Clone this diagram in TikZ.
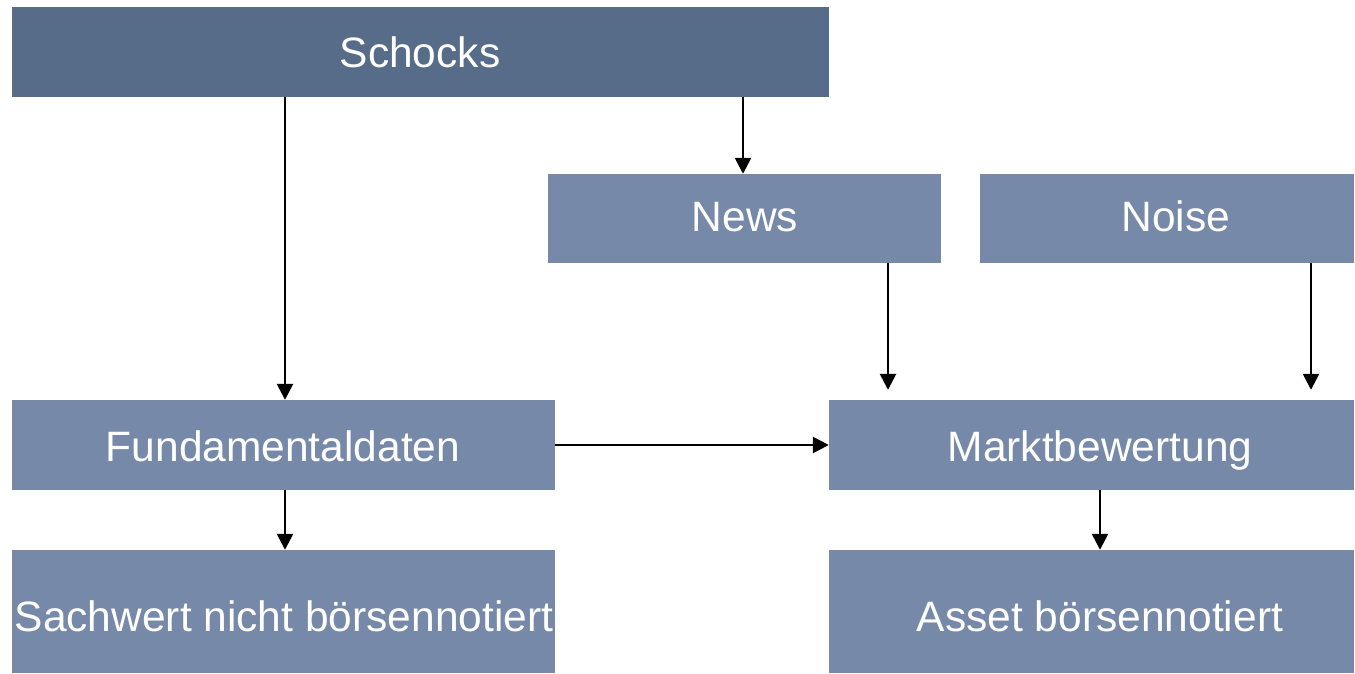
\documentclass[tikz,border=0pt]{standalone}
\usepackage{fontspec}
\setmainfont{Liberation Sans}
\usetikzlibrary{arrows.meta}
\definecolor{darkbox}{HTML}{576C88}
\definecolor{lightbox}{HTML}{7689A8}
\tikzset{
  boxd/.style={fill=darkbox, inner sep=0pt},
  boxl/.style={fill=lightbox, inner sep=0pt},
  lbl/.style={text=white, anchor=base, inner sep=0pt, font=\fontsize{42.5}{45}\selectfont},
  arr/.style={draw=black, line width=2.6pt, -{Triangle[length=16pt,width=16pt]}}
}
\begin{document}
\begin{tikzpicture}[x=1pt,y=-1pt]
\useasboundingbox (0,0) rectangle (1355,674);
\node[boxd, minimum width=817pt, minimum height=90pt] (schocks) at (420.5,52) {};
\node[boxl, minimum width=393pt, minimum height=89pt] (news) at (744.5,218.5) {};
\node[boxl, minimum width=374pt, minimum height=89pt] (noise) at (1167,218.5) {};
\node[boxl, minimum width=543pt, minimum height=90pt] (fund) at (283.5,445) {};
\node[boxl, minimum width=525pt, minimum height=90pt] (markt) at (1091.5,445) {};
\node[boxl, minimum width=543pt, minimum height=123pt] (sach) at (283.5,611.5) {};
\node[boxl, minimum width=525pt, minimum height=123pt] (asset) at (1091.5,611.5) {};
\node[lbl] (tschocks) at (420,67.5) {Schocks};
\node[lbl] (tnews) at (745,231.5) {News};
\node[lbl] (tnoise) at (1176,231.5) {Noise};
\node[lbl] (tfund) at (283,461.5) {Fundamentaldaten};
\node[lbl] (tmarkt) at (1100,461.5) {Marktbewertung};
\node[lbl] (tsach) at (284,631.5) {Sachwert nicht börsennotiert};
\node[lbl] (tasset) at (1100,631.5) {Asset börsennotiert};
\draw[arr] (schocks.south -| 285,0) -- (fund.north -| 285,0);
\draw[arr] (schocks.south -| 743,0) -- (news.north -| 743,0);
\draw[arr, shorten >=10pt] (news.south -| 888,0) -- (markt.north -| 888,0);
\draw[arr, shorten >=10pt] (noise.south -| 1311,0) -- (markt.north -| 1311,0);
\draw[arr] (fund.east) -- (markt.west);
\draw[arr] (fund.south -| 285,0) -- (sach.north -| 285,0);
\draw[arr] (markt.south -| 1100,0) -- (asset.north -| 1100,0);
\end{tikzpicture}
\end{document}
